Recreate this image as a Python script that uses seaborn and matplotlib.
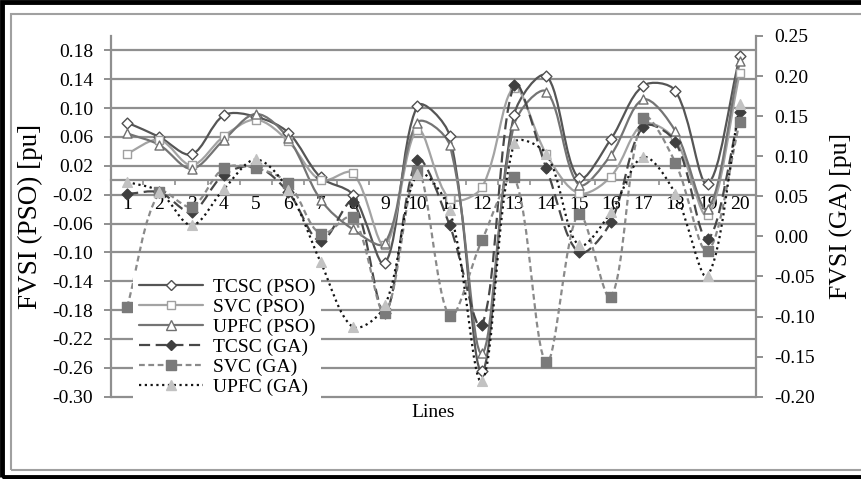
import numpy as np
import pandas as pd
import seaborn as sns
import matplotlib
matplotlib.use("Agg")
import matplotlib.pyplot as plt
from matplotlib.path import Path
from matplotlib.patches import PathPatch, Rectangle
from matplotlib.lines import Line2D
from matplotlib.ticker import FixedLocator, FormatStrFormatter

# ---------------- data ----------------
lines = list(range(1, 21))
tcsc_pso = [0.080, 0.060, 0.036, 0.090, 0.088, 0.066, 0.004, -0.020, -0.115, 0.103,
            0.062, -0.265, 0.091, 0.145, 0.003, 0.057, 0.131, 0.124, -0.005, 0.172]
svc_pso = [0.037, 0.056, 0.021, 0.061, 0.084, 0.054, 0.000, 0.010, -0.090, 0.070,
           -0.026, -0.010, 0.128, 0.036, -0.018, 0.005, 0.078, 0.056, -0.048, 0.149]
upfc_pso = [0.065, 0.049, 0.016, 0.056, 0.092, 0.058, -0.027, -0.068, -0.087, 0.080,
            0.049, -0.240, 0.077, 0.123, -0.006, 0.035, 0.112, 0.068, -0.040, 0.165]
tcsc_ga = [0.053, 0.055, 0.031, 0.077, 0.087, 0.055, -0.006, 0.043, -0.095, 0.095,
           0.014, -0.111, 0.189, 0.085, -0.020, 0.018, 0.137, 0.118, -0.003, 0.155]
svc_ga = [-0.088, 0.055, 0.037, 0.085, 0.085, 0.066, 0.003, 0.024, -0.095, 0.082,
          -0.099, -0.005, 0.074, -0.157, 0.028, -0.076, 0.148, 0.092, -0.018, 0.143]
upfc_ga = [0.068, 0.056, 0.014, 0.059, 0.096, 0.058, -0.032, -0.113, -0.086, 0.078,
           0.033, -0.180, 0.116, 0.103, -0.011, 0.030, 0.099, 0.053, -0.049, 0.165]

left_ticks = [-0.30, -0.26, -0.22, -0.18, -0.14, -0.10, -0.06, -0.02, 0.02, 0.06, 0.10, 0.14, 0.18]
right_ticks = [-0.20, -0.15, -0.10, -0.05, 0.00, 0.05, 0.10, 0.15, 0.20, 0.25]

# ---------------- style ----------------
sns.set_theme(style="white")
plt.rcParams["font.family"] = ["Liberation Serif", "DejaVu Serif"]
plt.rcParams["text.color"] = "black"
plt.rcParams["axes.labelcolor"] = "black"
plt.rcParams["xtick.color"] = "black"
plt.rcParams["ytick.color"] = "black"

W, H = 862, 479
fig = plt.figure(figsize=(W / 100, H / 100), dpi=100)
fig.patch.set_facecolor("white")

L, R, T, B = 111, 756, 36, 396.7
ax = fig.add_axes([L / W, 1 - B / H, (R - L) / W, (B - T) / H])
ax2 = ax.twinx()

ax.set_xlim(0.5, 20.5)
ax.set_ylim(-0.30, 0.20)
ax2.set_xlim(0.5, 20.5)
ax2.set_ylim(-0.20, 0.25)

grid_c = "#8f8f8f"


def smooth_path(a, xs, ys):
    """Spreadsheet-style smoothed line: cubic Bezier segments whose control
    arms follow the neighbour chord, weighted by the on-screen segment lengths."""
    data = np.column_stack([xs, ys]).astype(float)
    pts = a.transData.transform(data)
    n = len(pts)
    d = np.hypot(*np.diff(pts, axis=0).T)  # segment lengths
    verts = [pts[0]]
    codes = [Path.MOVETO]
    for i in range(n - 1):
        p0 = pts[i - 1] if i > 0 else pts[i]
        p1 = pts[i]
        p2 = pts[i + 1]
        p3 = pts[i + 2] if i + 2 < n else pts[i + 1]
        d_prev = d[i - 1] if i > 0 else 0.0
        d_cur = d[i]
        d_next = d[i + 1] if i + 2 < n else 0.0
        w1 = d_cur / (d_prev + d_cur) if (d_prev + d_cur) > 0 else 0.5
        w2 = d_cur / (d_cur + d_next) if (d_cur + d_next) > 0 else 0.5
        c1 = p1 + (p2 - p0) * w1 / 3.0
        c2 = p2 - (p3 - p1) * w2 / 3.0
        verts += [c1, c2, p2]
        codes += [Path.CURVE4] * 3
    verts = a.transData.inverted().transform(np.array(verts))
    return Path(verts, codes)


series = [
    dict(label="TCSC (PSO)", y=tcsc_pso, axis=ax, color="#555555", ls="-",
         marker="D", mfc="white", mec="#505050", ms=5.5),
    dict(label="SVC (PSO)", y=svc_pso, axis=ax, color="#a3a3a3", ls="-",
         marker="s", mfc="white", mec="#a0a0a0", ms=6),
    dict(label="UPFC (PSO)", y=upfc_pso, axis=ax, color="#747474", ls="-",
         marker="^", mfc="white", mec="#707070", ms=6.5),
    dict(label="TCSC (GA)", y=tcsc_ga, axis=ax2, color="#484848", ls=(0, (5, 2.5)),
         marker="D", mfc="#3f3f3f", mec="#3f3f3f", ms=5.5),
    dict(label="SVC (GA)", y=svc_ga, axis=ax2, color="#8a8a8a", ls=(0, (2.6, 1.6)),
         marker="s", mfc="#7a7a7a", mec="#7a7a7a", ms=6.5),
    dict(label="UPFC (GA)", y=upfc_ga, axis=ax2, color="#151515", ls=(0, (1, 1.6)),
         marker="^", mfc="#c2c2c2", mec="#c2c2c2", ms=7),
]

handles = []
for s in series:
    a = s["axis"]
    patch = PathPatch(smooth_path(a, lines, s["y"]), fill=False, edgecolor=s["color"],
                      lw=1.6, linestyle=s["ls"], transform=a.transData, zorder=2)
    a.add_patch(patch)
    df = pd.DataFrame({"Lines": lines, "FVSI": s["y"]})
    sns.scatterplot(data=df, x="Lines", y="FVSI", ax=a, marker=s["marker"],
                    s=s["ms"] ** 2, color=s["mfc"], edgecolor=s["mec"],
                    linewidth=1.0, zorder=3, legend=False)
    handles.append(Line2D([0], [0], color=s["color"], lw=1.6, linestyle=s["ls"],
                          marker=s["marker"], markersize=s["ms"],
                          markerfacecolor=s["mfc"], markeredgecolor=s["mec"],
                          markeredgewidth=1.0, label=s["label"]))

# ---------------- axes ----------------
ax.set_xlim(0.5, 20.5)
ax.set_ylim(-0.30, 0.20)
ax2.set_ylim(-0.20, 0.25)

ax.yaxis.set_major_locator(FixedLocator(left_ticks))
ax.yaxis.set_major_formatter(FormatStrFormatter("%.2f"))
ax2.yaxis.set_major_locator(FixedLocator(right_ticks))
ax2.yaxis.set_major_formatter(FormatStrFormatter("%.2f"))

ax.set_xticks(lines)
ax.set_xticklabels([str(v) for v in lines])
ax.xaxis.set_minor_locator(FixedLocator([v + 0.5 for v in [0] + lines]))

ax.grid(axis="y", color=grid_c, lw=1.6)
ax.grid(axis="x", visible=False)
for gl in ax.get_ygridlines():
    gl.set_clip_on(False)
ax.set_axisbelow(True)

for sp in ["top", "right"]:
    ax.spines[sp].set_visible(False)
ax.spines["left"].set_color(grid_c)
ax.spines["left"].set_linewidth(1.6)
ax.spines["bottom"].set_position(("data", 0))
ax.spines["bottom"].set_color(grid_c)
ax.spines["bottom"].set_linewidth(1.6)
for sp in ["top", "left", "bottom"]:
    ax2.spines[sp].set_visible(False)
ax2.spines["right"].set_color(grid_c)
ax2.spines["right"].set_linewidth(1.6)

ax.tick_params(axis="y", which="major", direction="out", length=5, width=1.4,
               color=grid_c, labelsize=14, pad=8, left=True)
ax.tick_params(axis="x", which="major", length=0, labelsize=14, pad=11, bottom=True)
ax.tick_params(axis="x", which="minor", direction="out", length=3.5, width=1.2,
               color=grid_c, bottom=True)
ax2.tick_params(axis="y", which="major", direction="out", length=5, width=1.4,
                color=grid_c, labelsize=14, pad=8, right=True)

ax.set_xlabel("Lines", fontsize=14)
ax.xaxis.label.set_va("center")
ax.xaxis.set_label_coords(0.5, -0.045)
ax.set_ylabel("FVSI (PSO) [pu]", fontsize=19.5)
ax.yaxis.label.set_va("center")
ax.yaxis.set_label_coords(-0.125, 0.5)
ax2.set_ylabel("FVSI (GA) [pu]", fontsize=18.5, rotation=90)
ax2.yaxis.label.set_va("center")
ax2.yaxis.set_label_coords(1.132, 0.5)

leg = ax2.legend(handles=handles, loc="lower left", bbox_to_anchor=(0.034, -0.013),
                 frameon=True, facecolor="white", edgecolor="none", framealpha=1,
                 fancybox=False, borderpad=0.3, fontsize=14, handlelength=3.3,
                 handletextpad=0.5, labelspacing=0.12, borderaxespad=0)
leg.set_zorder(10)

# ---------------- outer frames ----------------
fig.add_artist(Rectangle((11 / W, 1 - 470 / H), 1.2, (470 - 14) / H,
                         transform=fig.transFigure, fill=False, ec="#a0a0a0", lw=1.5))
fig.add_artist(Rectangle((2.2 / W, 1 - 477 / H), 1.2, (477 - 2.2) / H,
                         transform=fig.transFigure, fill=False, ec="black", lw=3.5))

fig.savefig("out.png", dpi=100)
